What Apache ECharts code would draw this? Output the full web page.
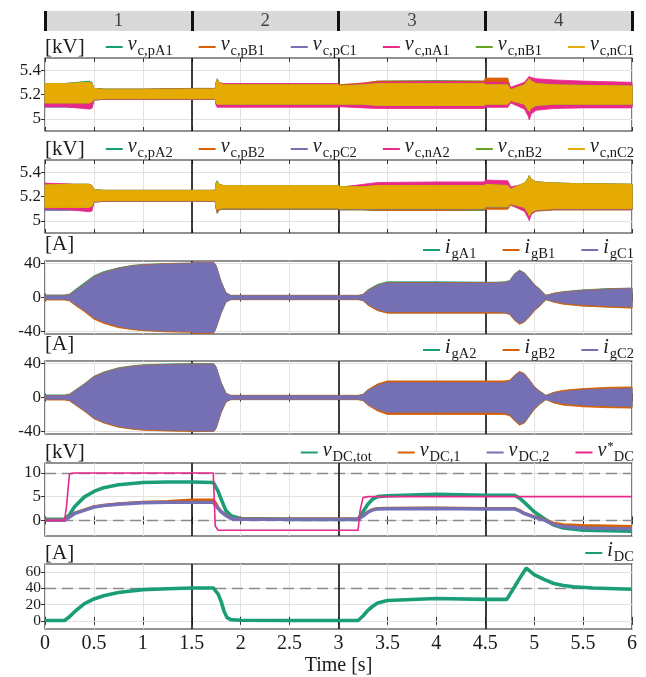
<!DOCTYPE html>
<html><head><meta charset="utf-8">
<script src="https://cdn.jsdelivr.net/npm/echarts@6.0.0/dist/echarts.min.js"></script>
<style>html,body{margin:0;padding:0;background:#fff;}#chart{width:646px;height:677px;}</style>
</head><body><div id="chart"></div>
<script>
// ---------------- data ----------------
const phaseNames = ['1', '2', '3', '4'];
const phaseStart = [0, 1.5, 3, 4.5];
const phaseEnd = [1.5, 3, 4.5, 6];

const vcTicks = [5, 5.2, 5.4];
const igTicks = [-40, 0, 40];
const vdcTicks = [0, 5, 10];
const idcTicks = [0, 20, 40, 60];
const vdcRefLines = [0, 10];
const idcRefLines = [40];

// capacitor voltages (band envelopes, kV)
const tV = [0, 0.2, 0.45, 0.48, 0.5, 0.6, 1.0, 1.5, 1.74, 1.75, 1.76, 1.78, 1.82, 2.5, 3.0, 3.01, 3.25, 3.4, 4.0, 4.49, 4.5, 4.73, 4.76, 4.9, 4.94, 4.95, 4.97, 5.02, 5.2, 5.5, 6.0];
const nC1Up = [5.29,5.29,5.30,5.29,5.25, 5.24,5.24,5.245,5.245,5.30, 5.32,5.30,5.28,5.28,5.28, 5.27,5.28,5.29,5.29,5.29, 5.28,5.28,5.24,5.28,5.32, 5.33,5.31,5.29,5.28,5.275, 5.27];
const nC1Lo = [5.13,5.13,5.13,5.14,5.16, 5.165,5.165,5.165,5.165,5.13, 5.12,5.12,5.12,5.12,5.12, 5.12,5.12,5.11,5.11,5.11, 5.12,5.12,5.15,5.12,5.07, 5.06,5.09,5.11,5.12,5.12, 5.12];
const nA1Up = [5.28,5.28,5.29,5.28,5.245, 5.24,5.24,5.245,5.245,5.29, 5.31,5.30,5.29,5.29,5.29, 5.27,5.29,5.30,5.305,5.30, 5.30,5.30,5.26,5.30,5.34, 5.35,5.34,5.33,5.32,5.31, 5.30];
const nA1Lo = [5.10,5.10,5.08,5.085,5.155, 5.16,5.16,5.16,5.16,5.11, 5.095,5.095,5.095,5.095,5.095, 5.10,5.09,5.085,5.085,5.085, 5.095,5.095,5.13,5.08,5.02, 4.99,5.04,5.07,5.085,5.09, 5.09];
const pA1Up = [5.29,5.29,5.31,5.30,5.25, 5.245,5.245,5.25,5.25,5.30, 5.33,5.30,5.285,5.285,5.285, 5.28,5.29,5.31,5.315,5.31, 5.31,5.31,5.25,5.29,5.33, 5.34,5.32,5.30,5.29,5.28, 5.28];
const pA1Lo = [5.11,5.11,5.10,5.10,5.155, 5.16,5.16,5.16,5.16,5.12, 5.11,5.11,5.105,5.105,5.105, 5.11,5.10,5.095,5.095,5.095, 5.10,5.10,5.14,5.10,5.05, 5.04,5.07,5.09,5.10,5.10, 5.10];
const pB1Up = [5.285,5.285,5.30,5.295,5.25, 5.245,5.245,5.25,5.25,5.30, 5.32,5.30,5.285,5.285,5.285, 5.28,5.295,5.31,5.31,5.31, 5.335,5.335,5.25,5.29,5.33, 5.34,5.32,5.30,5.29,5.28, 5.28];
const pC1Lo = [5.095,5.095,5.09,5.09,5.155, 5.16,5.16,5.16,5.16,5.12, 5.11,5.11,5.11,5.11,5.11, 5.11,5.105,5.10,5.10,5.10, 5.11,5.11,5.14,5.11,5.06, 5.05,5.08,5.10,5.11,5.11, 5.11];

const nC2Up = [5.295,5.30,5.30,5.29,5.255, 5.25,5.25,5.25,5.25,5.31, 5.32,5.30,5.29,5.29,5.29, 5.28,5.28,5.29,5.29,5.29, 5.30,5.29,5.26,5.31,5.35, 5.37,5.34,5.32,5.31,5.305, 5.30];
const nC2Lo = [5.11,5.11,5.11,5.12,5.16, 5.165,5.165,5.165,5.165,5.11, 5.09,5.10,5.105,5.105,5.105, 5.10,5.10,5.10,5.10,5.10, 5.115,5.115,5.14,5.11,5.06, 5.04,5.07,5.09,5.10,5.10, 5.10];
const nA2Up = [5.31,5.305,5.29,5.28,5.25, 5.245,5.245,5.245,5.245,5.29, 5.30,5.29,5.28,5.28,5.28, 5.275,5.30,5.315,5.32,5.32, 5.335,5.33,5.28,5.30,5.33, 5.34,5.32,5.30,5.29,5.29, 5.29];
const nA2Lo = [5.10,5.095,5.075,5.08,5.155, 5.16,5.16,5.16,5.16,5.10, 5.08,5.10,5.105,5.11,5.11, 5.105,5.105,5.105,5.105,5.105, 5.115,5.115,5.135,5.08,5.02, 5.00,5.05,5.085,5.095,5.095, 5.095];
const pA2Up = [5.30,5.30,5.30,5.29,5.255, 5.25,5.25,5.25,5.25,5.32, 5.33,5.30,5.29,5.29,5.29, 5.28,5.29,5.30,5.30,5.30, 5.31,5.30,5.26,5.31,5.35, 5.37,5.34,5.32,5.31,5.305, 5.30];
const pA2Lo = [5.10,5.10,5.10,5.10,5.155, 5.16,5.16,5.16,5.16,5.10, 5.06,5.09,5.095,5.095,5.095, 5.09,5.09,5.085,5.085,5.085, 5.10,5.10,5.13,5.08,5.04, 5.03,5.06,5.08,5.09,5.09, 5.09];
const pB2Lo = [5.105,5.105,5.10,5.10,5.155, 5.16,5.16,5.16,5.16,5.10, 5.07,5.09,5.095,5.095,5.095, 5.09,5.09,5.085,5.085,5.09, 5.095,5.095,5.13,5.08,5.04, 5.03,5.06,5.08,5.09,5.09, 5.09];
const pC2Lo = [5.085,5.085,5.09,5.09,5.155, 5.16,5.16,5.16,5.16,5.105, 5.085,5.095,5.10,5.10,5.10, 5.095,5.095,5.095,5.095,5.095, 5.11,5.11,5.135,5.10,5.05, 5.035,5.065,5.085,5.095,5.095, 5.095];

// grid currents (band envelopes, A)
const tI = [0, 0.2, 0.25, 0.3, 0.4, 0.5, 0.6, 0.75, 0.9, 1.0, 1.25, 1.5, 1.51, 1.72, 1.73, 1.75, 1.8, 1.85, 1.9, 3.2, 3.25, 3.3, 3.4, 3.5, 4.0, 4.6, 4.7, 4.75, 4.8, 4.85, 4.9, 4.95, 5.0, 5.05, 5.12, 5.2, 5.3, 5.5, 5.75, 6.0];
const igC1Up = [2,2,3,7,15, 24,29,34,37,38, 39.5,40,41,41,40.5, 37,18,5,2,2, 3,8,14,17,17, 17,17.5,19,27,31.5, 28.5,22,15,10,2, 4.5,6,8,9.5,10.5];
const igC1Lo = [-2,-2,-3,-7,-15, -24,-29,-34,-37,-38, -39.5,-40,-41.5,-41.5,-40.5, -35,-18,-5,-2,-2, -3,-8,-14,-17,-17, -17,-17.5,-19,-26,-30.5, -28,-22,-15,-10,-2, -4.5,-6.5,-8.5,-10,-11];
const igA1Up = [3,3,4,8.5,17, 25.5,30.5,35,38,39, 40,40.5,41,41,40.5, 37,18.5,5.5,2.5,2.5, 3.5,9,15.5,18.5,18.5, 18,18.5,20,28,32, 29,22.5,15.5,10.5,2.5, 5,7,9,10.5,11];
const igA1Lo = [-2.5,-2.5,-3.5,-7.5,-15.5, -24.5,-29.5,-34.5,-37.5,-38.5, -40,-40.5,-41.5,-41.5,-40.5, -35,-18,-5,-2.5,-2.5, -3.5,-8.5,-15,-18,-18, -18,-18,-19.5,-26.5,-31, -28.5,-22.5,-15.5,-10.5,-2.5, -5,-7.5,-10,-11,-12];
const igB1Up = [2.5,2.5,3.5,7.5,15.5, 24.5,29.5,34.5,37.5,38.5, 40,40.5,41.5,41.5,41, 37.5,18.5,5.5,2.5,2.5, 3.5,8.5,14.5,17.5,17.5, 17.5,18,19.5,27.5,32, 29,22.5,15.5,10.5,2.5, 5,6.5,8.5,10,11];
const igB1Lo = [-3,-3,-4,-8.5,-16.5, -25.5,-30.5,-35.5,-38,-39, -40.5,-41,-42.5,-42.5,-41, -35.5,-18.5,-5.5,-2.5,-2.5, -3.5,-9,-15.5,-18.5,-18.5, -18.5,-18.5,-20,-27,-31.5, -29,-23,-16,-11,-2.5, -5.5,-8,-10,-11.5,-12.5];
const igC2Up = [2,2,3,7,15, 24,29,34,36.5,37.5, 38.5,39,39,39,38.5, 35,17,4.5,2,2, 3,8,14,17.5,17.5, 17.5,17.5,19,25,29.5, 27,20,12,7,2, 5,7,9,10,10.5];
const igC2Lo = [-2,-2,-3,-7,-15, -24,-29,-34,-36.5,-37.5, -38.5,-39,-39.5,-39.5,-39, -35,-17,-4.5,-2,-2, -3,-8,-14,-17.5,-17.5, -17.5,-18,-20,-26,-31, -29,-21,-13,-7.5,-2, -5,-7,-9,-10,-10.5];
const igA2Up = [3,3,4,8,16, 25,30,35,37.5,38.5, 39.5,40,40,40,39, 35.5,17.5,5,2.5,2.5, 3.5,9,15.5,19,19, 19,19,20,26,30.5, 28,21,13,8,2.5, 6,8,10,11,11.5];
const igA2Lo = [-2.5,-2.5,-3.5,-7.5,-15.5, -24.5,-29.5,-34.5,-37,-38, -39,-39.5,-40,-40,-39.5, -35.5,-17.5,-5,-2.5,-2.5, -3.5,-8.5,-15,-19,-19, -19,-19.5,-21,-27,-32, -30,-22,-14,-8.5,-2.5, -6,-8,-10,-11,-12];
const igB2Up = [2.5,2.5,3.5,7.5,15.5, 24.5,29.5,34.5,37,38, 39,39.5,39.5,39.5,39, 35.5,17.5,5,2.5,2.5, 3.5,9,16,19.5,19.5, 19.5,19.5,20.5,26,30.5, 28,21,13,8,2.5, 6,8.5,10.5,12,12.5];
const igB2Lo = [-3,-3,-4,-8,-16, -25,-30,-35,-37.5,-38.5, -39.5,-40,-40,-40,-39.5, -36,-18,-5.5,-2.5,-2.5, -3.5,-9,-16,-20,-20, -20,-20,-21.5,-27.5,-32.5, -30,-22,-14,-8.5,-2.5, -6.5,-9,-11,-12,-12.5];

// DC voltages (kV)
const tD = [0, 0.2, 0.22, 0.25, 0.3, 0.4, 0.5, 0.6, 0.75, 1.0, 1.25, 1.5, 1.72, 1.74, 1.77, 1.8, 1.85, 1.9, 2.0, 2.5, 3.0, 3.2, 3.22, 3.25, 3.3, 3.35, 3.4, 3.5, 4.0, 4.5, 4.8, 4.85, 4.9, 5.0, 5.1, 5.2, 5.3, 5.5, 6.0];
const vDCtot = [0.2,0.2,0.3,1.2,2.8, 4.9,6.1,6.9,7.5,8.0, 8.1,8.1,8.0,7.6,6.1, 4.5,2.0,1.0,0.4,0.2, 0.2,0.2,0.6,1.8,3.4, 4.5,5.0,5.2,5.5,5.3, 5.3,4.7,3.8,1.8,0.4, -1.0,-1.6,-2.1,-2.3];
const vDC1 = [0.1,0.1,0.3,0.8,1.5, 2.2,2.9,3.2,3.5,3.8, 4.0,4.3,4.3,3.8,2.7, 1.9,1.1,0.5,0.3,0.3, 0.3,0.3,0.5,1.0,1.8, 2.3,2.5,2.55,2.6,2.5, 2.5,2.1,1.5,0.8,0.2, -0.6,-0.9,-1.1,-1.3];
const vDC2 = [0,0,0.2,0.7,1.4, 2.1,2.8,3.1,3.4,3.7, 3.8,3.8,3.8,3.5,2.5, 1.8,1.0,0.4,0.2,0.2, 0.2,0.2,0.4,0.9,1.7, 2.2,2.4,2.45,2.5,2.4, 2.4,2.0,1.4,0.7,0.1, -0.9,-1.3,-1.6,-1.8];
const vDCref = [0,0,3,9.8,10, 10,10,10,10,10, 10,10,10,-1.2,-2.1, -2.1,-2.1,-2.1,-2.1,-2.1, -2.1,-2.1,2,4.8,5, 5,5,5,5,5, 5,5,5,5,5, 5,5,5,5];

// DC current (A)
const tC = [0, 0.2, 0.22, 0.25, 0.3, 0.4, 0.5, 0.6, 0.75, 1.0, 1.25, 1.5, 1.72, 1.74, 1.77, 1.8, 1.83, 1.86, 1.9, 2.0, 2.5, 3.0, 3.2, 3.22, 3.25, 3.3, 3.35, 3.4, 3.5, 4.0, 4.5, 4.72, 4.8, 4.85, 4.92, 5.0, 5.1, 5.2, 5.3, 5.4, 5.6, 6.0];
const iDC = [0.5,0.5,1,5,11, 21,27,31,35,38.5, 39.5,40.5,40.5,39,33, 24,12,4,1.5,0.8, 0.5,0.5,0.5,2,6, 13,18,22,25,27.5, 26.5,26.5,42,52,65, 57,51,46,43.5,42, 40.5,39];

// ---------------- chart construction ----------------
const FONT = 'Liberation Serif';
const TXT = '#1a1a1a';
const COL = {green:'#1b9e77', orange:'#d95f02', purple:'#7570b3', pink:'#e7298a', lime:'#66a61e', yellow:'#e6ab02'};
const tops = [58, 160, 261, 361, 463, 564];
const H = 73;

const panels = [
  {unit:'[kV]', min:4.9, max:5.5, ticks:vcTicks, fs:17, bands:[
    ['v_c,pA1', COL.green, tV, pA1Lo, pA1Up], ['v_c,pB1', COL.orange, tV, pA1Lo, pB1Up],
    ['v_c,pC1', COL.purple, tV, pC1Lo, nC1Up], ['v_c,nA1', COL.pink, tV, nA1Lo, nA1Up],
    ['v_c,nB1', COL.lime, tV, nC1Lo, nC1Up], ['v_c,nC1', COL.yellow, tV, nC1Lo, nC1Up]]},
  {unit:'[kV]', min:4.9, max:5.5, ticks:vcTicks, fs:17, bands:[
    ['v_c,pA2', COL.green, tV, pA2Lo, pA2Up], ['v_c,pB2', COL.orange, tV, pB2Lo, nC2Up],
    ['v_c,pC2', COL.purple, tV, pC2Lo, nC2Up], ['v_c,nA2', COL.pink, tV, nA2Lo, nA2Up],
    ['v_c,nB2', COL.lime, tV, nC2Lo, nC2Up], ['v_c,nC2', COL.yellow, tV, nC2Lo, nC2Up]]},
  {unit:'[A]', min:-43, max:43, ticks:igTicks, fs:17, bands:[
    ['i_gA1', COL.green, tI, igA1Lo, igA1Up], ['i_gB1', COL.orange, tI, igB1Lo, igB1Up],
    ['i_gC1', COL.purple, tI, igC1Lo, igC1Up]]},
  {unit:'[A]', min:-43, max:43, ticks:igTicks, fs:17, bands:[
    ['i_gA2', COL.green, tI, igA2Lo, igA2Up], ['i_gB2', COL.orange, tI, igB2Lo, igB2Up],
    ['i_gC2', COL.purple, tI, igC2Lo, igC2Up]]},
  {unit:'[kV]', min:-3.3, max:12.1, ticks:vdcTicks, fs:17, refs:vdcRefLines, lines:[
    ['v_DC,tot', COL.green, tD, vDCtot, 3.6], ['v_DC,1', COL.orange, tD, vDC1, 3],
    ['v_DC,2', COL.purple, tD, vDC2, 3.4], ['v*_DC', COL.pink, tD, vDCref, 1.6]]},
  {unit:'[A]', min:-10, max:70, ticks:idcTicks, fs:15.5, refs:idcRefLines, lines:[
    ['i_DC', COL.green, tC, iDC, 3.6]]}
];

const grid = [{left:45, right:14, top:11, height:20, show:true, backgroundColor:'#d9d9d9', borderWidth:0}];
tops.forEach(t => grid.push({left:45, right:14, top:t, height:H, show:true, borderColor:'#262626', borderWidth:1.2}));

const xAxis = grid.map((g, i) => ({
  gridIndex:i, type:'value', min:0, max:6, interval:0.5,
  axisLine:{show:false},
  axisTick:{show:i > 0, inside:true, length:4, lineStyle:{color:'#333'}},
  splitLine:{show:i > 0, lineStyle:{color:'#e2e2e2', width:1}},
  axisLabel:{show:i === 6, fontFamily:FONT, fontSize:20, color:TXT, margin:5},
  name:i === 6 ? 'Time [s]' : '', nameLocation:'middle', nameGap:27,
  nameTextStyle:{fontFamily:FONT, fontSize:20, color:TXT}
}));
// mirrored tick marks on the top edge of each panel
for (let i = 1; i <= 6; i++) xAxis.push({
  gridIndex:i, type:'value', position:'top', min:0, max:6, interval:0.5,
  axisLine:{show:false}, axisLabel:{show:false}, splitLine:{show:false},
  axisTick:{show:true, inside:true, length:4, lineStyle:{color:'#333'}}
});

const yAxis = [{gridIndex:0, type:'value', min:0, max:1, show:false}];
panels.forEach((p, k) => yAxis.push({
  gridIndex:k + 1, type:'value', min:p.min, max:p.max,
  axisLine:{show:false}, splitLine:{show:false},
  axisTick:{show:true, inside:true, length:4, customValues:p.ticks, lineStyle:{color:'#333'}},
  axisLabel:{customValues:p.ticks, interval:0, showMinLabel:true, showMaxLabel:true, hideOverlap:false,
    fontFamily:FONT, fontSize:p.fs, lineHeight:13, color:TXT, margin:4},
  name:p.unit, nameLocation:'end', nameGap:2,
  nameTextStyle:{fontFamily:FONT, fontSize:21, color:TXT, align:'left', verticalAlign:'bottom', padding:[0,0,-2,0]}
}));
// mirrored tick marks on the right edge of each panel
panels.forEach((p, k) => yAxis.push({
  gridIndex:k + 1, type:'value', position:'right', min:p.min, max:p.max,
  axisLine:{show:false}, splitLine:{show:false}, axisLabel:{show:false},
  axisTick:{show:true, inside:true, length:4, customValues:p.ticks, lineStyle:{color:'#333'}}
}));

const series = [];
// phase strip
series.push({
  type:'line', xAxisIndex:0, yAxisIndex:0, data:[], silent:true, z:5,
  markLine:{silent:true, symbol:'none', animation:false, label:{show:false},
    lineStyle:{color:'#111', width:3, type:'solid'},
    data:phaseStart.concat([phaseEnd[phaseEnd.length - 1]]).map(x => ({xAxis:x}))}
});
series.push({
  type:'scatter', xAxisIndex:0, yAxisIndex:0, symbolSize:0, silent:true,
  data:phaseNames.map((n, i) => ({value:[(phaseStart[i] + phaseEnd[i]) / 2, 0.5], name:n})),
  label:{show:true, position:'inside', formatter:p => p.name, fontFamily:FONT, fontSize:19, color:TXT}
});

function bandRender(t, lo, up, color) {
  return function (params, api) {
    if (params.dataIndex !== 0) return null;
    const pts = [];
    for (let i = 0; i < t.length; i++) pts.push(api.coord([t[i], up[i]]));
    for (let i = t.length - 1; i >= 0; i--) pts.push(api.coord([t[i], lo[i]]));
    return {type:'polygon', shape:{points:pts}, style:{fill:color, stroke:color, lineWidth:0.8}};
  };
}

const legends = [];
panels.forEach((p, k) => {
  const gi = k + 1;
  const ml = [];
  p.ticks.forEach(v => ml.push({yAxis:v, lineStyle:{color:'#e2e2e2', width:1, type:'solid'}}));
  (p.refs || []).forEach(v => ml.push({yAxis:v, lineStyle:{color:'#8a8a8a', width:1.4, type:[11, 6]}}));
  phaseStart.slice(1).forEach(x => ml.push({xAxis:x, lineStyle:{color:'#111', width:1.6, type:'solid'}}));
  series.push({type:'line', xAxisIndex:gi, yAxisIndex:gi, data:[], silent:true, z:1,
    markLine:{silent:true, symbol:'none', animation:false, z:1, label:{show:false}, data:ml}});
  const names = [];
  (p.bands || []).forEach(b => {
    names.push(b[0]);
    series.push({
      type:'custom', name:b[0], xAxisIndex:gi, yAxisIndex:gi, zlevel:1, z:10, silent:true,
      itemStyle:{color:b[1]}, encode:{x:0, y:[1, 2]},
      data:b[2].map((x, i) => [x, b[3][i], b[4][i]]),
      renderItem:bandRender(b[2], b[3], b[4], b[1])
    });
  });
  (p.lines || []).forEach(l => {
    names.push(l[0]);
    series.push({
      type:'line', name:l[0], xAxisIndex:gi, yAxisIndex:gi, zlevel:1, z:10, silent:true,
      color:l[1], symbol:'none', lineStyle:{color:l[1], width:l[4]},
      data:l[2].map((x, i) => [x, l[3][i]])
    });
  });
  legends.push({
    top:tops[k] - 23, right:12, icon:'rect', itemWidth:17, itemHeight:2, itemGap:26,
    selectedMode:false, padding:0, data:names,
    formatter:function (n) {
      const parts = n.split('_');
      let m = parts[0], star = '';
      if (m.endsWith('*')) { m = m.slice(0, -1); star = '{p|*}'; }
      return '{m|' + m + '}' + star + '{s|' + parts[1] + '}';
    },
    textStyle:{rich:{
      m:{fontFamily:FONT, fontStyle:'italic', fontSize:20, color:TXT, padding:[0, 1, 4, 0], verticalAlign:'bottom'},
      s:{fontFamily:FONT, fontSize:14.5, color:TXT, verticalAlign:'bottom'},
      p:{fontFamily:FONT, fontSize:13, color:TXT, verticalAlign:'bottom', padding:[0, 0, 12, 0]}
    }}
  });
});

const chart = echarts.init(document.getElementById('chart'), null, {renderer:'canvas'});
chart.setOption({
  animation:false, backgroundColor:'#fff',
  grid, xAxis, yAxis, legend:legends, series
});
</script></body></html>
